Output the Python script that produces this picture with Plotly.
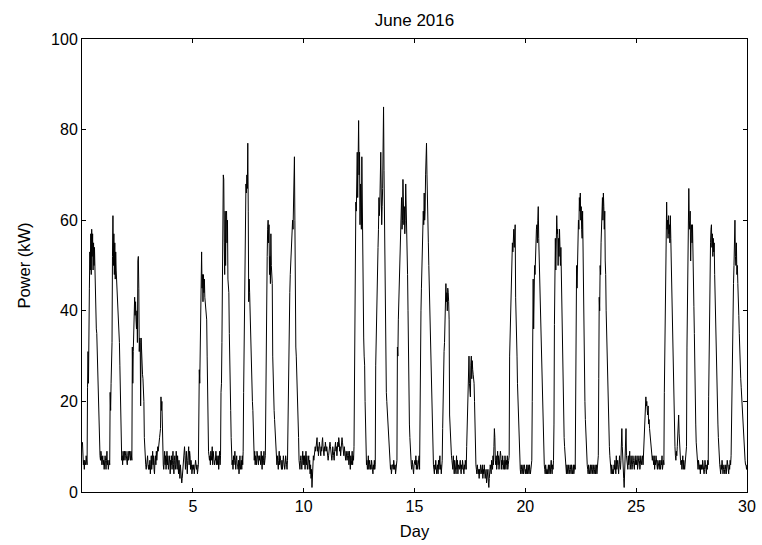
import numpy as np
import plotly.graph_objects as go

# Half-hourly power readings (kW), 48 samples per day, June 2016
D1 = [11,8,6,7,5,7,6,6,8,7,6, 23,31,24,30,45,53, 49,57,48,58,52,57,49,55,50,54,48, 45,37,36,35,30,29,28,20, 12,9,8,7,9,8,6,7,8,6,7,5]
D2 = [6,8,7,5,7,9,6,7,5,6,7,6, 22,18,24,28,33,52, 61,50,57,48,55,47,53,49,47,45, 40,40,39,36,33,28,20,12, 9,7,8,6,9,7,8,9,7,8,9,8]
D3 = [7,6,8,9,7,8,9,8,7,9,8,7, 32,24,31,36,41,43,39,42,38,36,40,33,51,52,45,31,34,33,19,34,30,27,26,25,22,20,12,8, 7,6,5,7,6,8,6,5]
D4 = [6,5,7,4,6,8,5,7,9,6,8,5, 4,7,8,6,9,7,8,10,9,11,12,12, 13,14,21,18,20,12,8,6, 5,7,9,6,8,5,7,9,6,8,5,7,6,8,4,7]
D5 = [6,8,5,7,9,6,4,7,8,5,6,9, 7,5,8,6,4,7,5,3,6,4,3,2, 3,5,7,6,9,10,8,5,7,9,6,4, 7,8,10,6,9,8,5,7,6,4,5,6]
D6 = [5,6,4,6,5,7,6,5,6,4,5,6, 22,27,24,30,35,46, 53,45,48,42,48,44,47,43,41,40, 39,38,30,20,14,9,8,7, 8,6,9,7,8,10,6,9,7,8,6,7]
D7 = [7,9,6,8,7,6,8,5,7,9,6,8, 22,24,33,45,60,70, 69,55,48,62,50,61,62,55,60,47, 45,44,35,25,22,18,12,8, 6,7,5,8,6,7,9,6,5,7,8,6]
D8 = [6,5,7,4,6,8,5,6,7,5,8,6, 9,22,33,27,45,65, 68,66,70,67,77,62,42,47,44,40, 30,28,24,22,20,18,12,8, 7,9,6,8,7,6,9,8,7,6,8,7]
D9 = [8,7,6,9,7,5,8,6,7,9,6,7, 8,26,30,45,52,58, 60,55,59,48,52,46,57,50,47,46, 30,22,20,18,16,14,12,10, 8,6,8,7,5,7,9,6,8,7,6,5]
D10 = [7,5,6,8,6,7,5,6,8,7,6,5, 7,15,33,30,40,44, 48,50,54,56,55,60,58,63,62,74, 60,34,32,30,27,24,20,17, 12,7,6,5,7,8,6,5,7,9,6,8]
D11 = [6,8,5,7,9,6,8,5,7,6,8,5, 7,4,6,3,5,1,4,7,8,7,9,8, 10,9,11,10,12,9,10,8,9,11,10,9, 8,10,9,11,12,10,9,8,10,9,11,10]
D12 = [9,10,8,9,7,8,10,9,11,10,8,9, 7,8,10,9,8,7,9,10,11,9,10,8, 9,11,10,12,11,9,10,8,9,10,12,11, 10,9,8,10,9,8,7,9,8,7,8,9]
D13 = [8,6,9,7,5,8,6,7,9,6,8,7, 10,28,39,54,64,62, 70,75,65,72,82,70,75,59,68,62, 58,74,60,45,37,34,30,28, 20,11,8,6,7,5,6,8,5,6,7,5]
D14 = [6,5,7,6,5,4,6,5,7,5,6, 28,35,40,44,50,54,58,65,61,64,68,75,66,59,63,67,72, 85,71,59,40,27,25,22,20,18,17,15,12,10,8,7, 5,6,4,5,6]
D15 = [6,5,7,6,5,6,4,6,5,7, 32,30,38,42,46,45,50,55,62,65,58,60,69,62,59,63,57,60, 68,64,55,50,48,40,25,20,15,12,9,8, 6,5,7,6,5,4,6,7]
D16 = [7,6,8,5,7,6,5,7,6,8,5, 28,32,40,45,50,60,58,62,59,66,60,62,70,72,77,70,61, 56,55,50,45,42,35,28,25,20,15,10,7,6, 5,4,6,5,7,5,4]
D17 = [5,6,4,7,5,6,8,5,6,4,5,7, 14,22,26,31,33,40,45,46,42,44,40,45,44,42,38,17, 14,11,9,8,7,6,5,8,6,4,7,5, 6,4,8,5,7,4,6,5]
D18 = [5,6,7,5,4,6,5,7,6,5,4,6,5,7,6,5, 10,15,21,25,28,30,24,22,21,28,30,25,29,27,26,25,24,20,12,8, 6,5,4,6,5,4,5,3,5,4,6,5]
D19 = [5,4,6,3,5,4,6,5,3,4,5,2, 4,3,5,2,1,3,4,6,5,4,7,6, 5,8,6,10,14,12,7,6,8,5,7,9, 6,8,5,7,6,9,8,5,7,6,8,5]
D20 = [6,7,5,8,6,5,7,6,8,5,6,7,8, 30,35,40,48,50,52,55,53,57,58,54,56,59,43,40, 35,30,24,20,15,11,8,6, 5,4,6,5,4,5,6,4,5,6,5,4]
D21 = [5,4,6,5,4,6,5,4,6,5,4,5,6,7, 20,40,47,36,45,50,48,55,52,58,59,55,60,63, 56,52,48,44,40,35,28,24,21,15,10,8,6, 5,4,6,5,4,5,4]
D22 = [5,6,4,5,6,4,5,7,5,4,6,5,7, 15,37,45,56,49,55,61,57,58,50,56,52,58,54,50, 54,48,40,28,24,20,16,12,10,8, 6,5,4,6,5,4,6,5,4,5]
D23 = [6,5,4,6,5,4,5,6,4,5,6,5, 28,38,50,45,52,55,60,58,65,62,66,60,63,58,56,62, 51,56,45,35,20,16,12,10, 8,6,5,4,6,5,4,5,6,4,5,6]
D24 = [5,4,6,5,4,5,6,4,5,6,4,5,6,8, 25,43,40,50,48,55,60,58,65,60,66,63,58,62, 51,48,40,35,28,24,20,17,14,10,8, 6,5,4,6,5,4,5,4,6]
D25 = [5,7,6,4,8,5,6,7,5,4,6,8, 6,5,7,9,14,10,6,4,3,1,5,9, 13,14,8,6,7,5,8,6,7,9,5,6, 8,7,5,6,8,7,6,5,7,8,6,7]
D26 = [6,8,5,7,6,8,7,5,6,8,7,6, 7,8,6,9,12,15,17,18,21,19,20,18, 17,19,15,16,14,13,12,10,9,8,7,8, 7,6,8,5,7,6,8,7,6,5,7,6]
D27 = [6,5,7,6,5,7,6,8,5,6,7,6, 22,30,39,45,50,64,58,60,56,61,57,59,55,61,56,50, 48,45,36,30,19,15,12,10, 8,7,9,8,10,12,14,17,13,10,8,7]
D28 = [6,7,5,6,8,5,7,6,5,6,7,8,10, 32,45,51,55,67,60,58,62,51,57,59,55,59,48,45, 41,35,22,18,15,11,9,7, 6,5,7,6,5,6,4,6,5,6,5,7]
D29 = [5,6,4,5,7,6,5,4,6,5,7,6, 21,35,47,50,55,58,59,54,57,52,56,53,55,48,42,40, 35,28,25,20,15,12,9,7, 6,5,4,6,5,7,6,4,5,6,5,4]
D30 = [5,6,4,5,7,6,5,4,6,5,7,6,8, 17,30,37,42,46,50,56,60,52,50,55,48,50,46,44, 39,35,30,28,25,23,21,18,15,12,10,9,8,7,6,6,5,6]

DAYS = [D1, D2, D3, D4, D5, D6, D7, D8, D9, D10, D11, D12, D13, D14, D15,
        D16, D17, D18, D19, D20, D21, D22, D23, D24, D25, D26, D27, D28, D29, D30]
X_TICKS = [5, 10, 15, 20, 25, 30]
Y_TICKS = [0, 20, 40, 60, 80, 100]

power = []
time = []
for d, vals in enumerate(DAYS):
    for k, v in enumerate(vals):
        time.append(d + (k + 1) / len(vals))
        power.append(v)

fig = go.Figure(go.Scatter(x=time, y=power, mode="lines",
                           line=dict(color="black", width=1), hoverinfo="skip"))

axis_common = dict(showline=True, linecolor="black", linewidth=1, mirror="allticks",
                   ticks="inside", ticklen=4, tickcolor="black", showgrid=False,
                   zeroline=False, automargin=False,
                   tickfont=dict(size=16, color="black"))

fig.update_layout(
    width=762, height=545,
    margin=dict(l=82, r=15, t=39, b=53),
    paper_bgcolor="white", plot_bgcolor="white",
    font=dict(family="Liberation Sans, Arial, sans-serif", color="black"),
    title=dict(text="June 2016", x=0.5, xref="paper", y=1 - 20 / 545, yref="container",
               yanchor="middle", font=dict(size=17, color="black")),
    showlegend=False,
    xaxis=dict(range=[0, 30], tickvals=X_TICKS, title=dict(text="Day", standoff=11,
               font=dict(size=16.5)), **axis_common),
    yaxis=dict(range=[0, 100], tickvals=Y_TICKS, title=dict(text="Power (kW)", standoff=16,
               font=dict(size=16.5)), **axis_common),
)

fig.write_html("out.html", config={"displayModeBar": False},
               post_script="document.body.style.margin='0px';")
